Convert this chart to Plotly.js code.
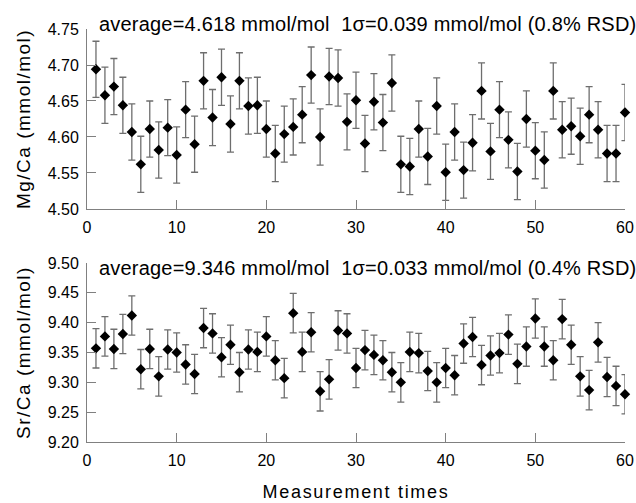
<!DOCTYPE html>
<html><head><meta charset="utf-8">
<script src="https://cdn.plot.ly/plotly-3.0.1.min.js"></script>
<style>html,body{margin:0;padding:0;background:#fff}#chart{width:636px;height:503px}</style>
</head><body><div id="chart"></div>
<script>
const measurementTimes = [1,2,3,4,5,6,7,8,9,10,11,12,13,14,15,16,17,18,19,20,
  21,22,23,24,25,26,27,28,29,30,31,32,33,34,35,36,37,38,39,40,
  41,42,43,44,45,46,47,48,49,50,51,52,53,54,55,56,57,58,59,60];

const mgCa = [4.694,4.658,4.670,4.644,4.607,4.562,4.611,4.582,4.613,4.575,
  4.638,4.590,4.678,4.627,4.683,4.618,4.678,4.643,4.644,4.611,
  4.577,4.604,4.614,4.631,4.686,4.600,4.684,4.682,4.621,4.651,
  4.591,4.649,4.620,4.675,4.562,4.559,4.611,4.573,4.643,4.551,
  4.607,4.554,4.592,4.664,4.580,4.638,4.596,4.552,4.625,4.581,
  4.568,4.664,4.610,4.615,4.601,4.631,4.610,4.577,4.577,4.634];
const mgCaSigma = 0.039;

const srCa = [9.357,9.377,9.356,9.381,9.412,9.322,9.356,9.310,9.355,9.350,
  9.330,9.314,9.391,9.382,9.342,9.363,9.317,9.355,9.351,9.377,
  9.337,9.307,9.416,9.351,9.384,9.285,9.305,9.387,9.382,9.324,
  9.354,9.346,9.337,9.317,9.300,9.351,9.349,9.319,9.300,9.324,
  9.312,9.365,9.376,9.329,9.345,9.349,9.380,9.331,9.360,9.407,
  9.360,9.337,9.406,9.363,9.310,9.287,9.367,9.309,9.294,9.280];
const srCaSigma = 0.033;

const mgLabel = 'average=4.618 mmol/mol  1σ=0.039 mmol/mol (0.8% RSD)';
const srLabel = 'average=9.346 mmol/mol  1σ=0.033 mmol/mol (0.4% RSD)';

const FONT = '"Liberation Sans", Arial, sans-serif';
const AX = '#808080';

function mkTrace(y, sigma, xa, ya) {
  return {
    x: measurementTimes, y: y, xaxis: xa, yaxis: ya,
    type: 'scatter', mode: 'markers', cliponaxis: false,
    marker: {symbol: 'diamond', size: 8, color: '#000'},
    error_y: {type: 'constant', value: sigma, visible: true, color: '#6e6e6e', thickness: 1.3, width: 3.5}
  };
}
function xAxis(anchor, withTitle) {
  const a = {
    anchor: anchor, domain: [0, 1], range: [0, 60], tick0: 0, dtick: 10,
    ticks: 'inside', ticklen: 9, tickcolor: AX, tickwidth: 1,
    showline: true, linecolor: AX, linewidth: 1, showgrid: false, zeroline: false,
    tickfont: {family: FONT, size: 16, color: '#000'}, ticklabelstandoff: 4
  };
  if (withTitle) a.title = {text: '<span style="letter-spacing:1.7px">Measurement times</span>', font: {family: FONT, size: 18, color: '#000'}, standoff: 17};
  return a;
}
function yAxis(anchor, dom, rng, title) {
  return {
    anchor: anchor, domain: dom, range: rng, tick0: rng[0], dtick: 0.05, tickformat: '.2f',
    ticks: 'inside', ticklen: 9, tickcolor: AX, tickwidth: 1,
    showline: true, linecolor: AX, linewidth: 1, showgrid: false, zeroline: false,
    tickfont: {family: FONT, size: 16, color: '#000'}, ticklabelstandoff: 4,
    title: {text: '<span style="letter-spacing:1.5px">' + title + '</span>', font: {family: FONT, size: 19, color: '#000'}, standoff: 12}
  };
}

const data = [mkTrace(mgCa, mgCaSigma, 'x', 'y'), mkTrace(srCa, srCaSigma, 'x2', 'y2')];
const layout = {
  width: 636, height: 503,
  margin: {l: 87, r: 11, t: 29, b: 61},
  paper_bgcolor: '#fff', plot_bgcolor: 'rgba(0,0,0,0)',
  showlegend: false,
  font: {family: FONT, color: '#000'},
  xaxis: xAxis('y', false),
  yaxis: yAxis('x', [0.5642, 1], [4.50, 4.75], 'Mg/Ca (mmol/mol)'),
  xaxis2: xAxis('y2', true),
  yaxis2: yAxis('x2', [0, 0.4334], [9.20, 9.50], 'Sr/Ca (mmol/mol)'),
  annotations: [
    {text: '<span style="letter-spacing:0.2px">' + mgLabel + '</span>', xref: 'x domain', yref: 'y domain', x: 0.0186, y: 1, xanchor: 'left', yanchor: 'middle', yshift: 5, showarrow: false, font: {family: FONT, size: 20, color: '#000'}},
    {text: '<span style="letter-spacing:0.2px">' + srLabel + '</span>', xref: 'x2 domain', yref: 'y2 domain', x: 0.0186, y: 1, xanchor: 'left', yanchor: 'middle', yshift: -5, showarrow: false, font: {family: FONT, size: 20, color: '#000'}}
  ]
};
Plotly.newPlot('chart', data, layout, {displayModeBar: false, staticPlot: true});
</script>
</body></html>
